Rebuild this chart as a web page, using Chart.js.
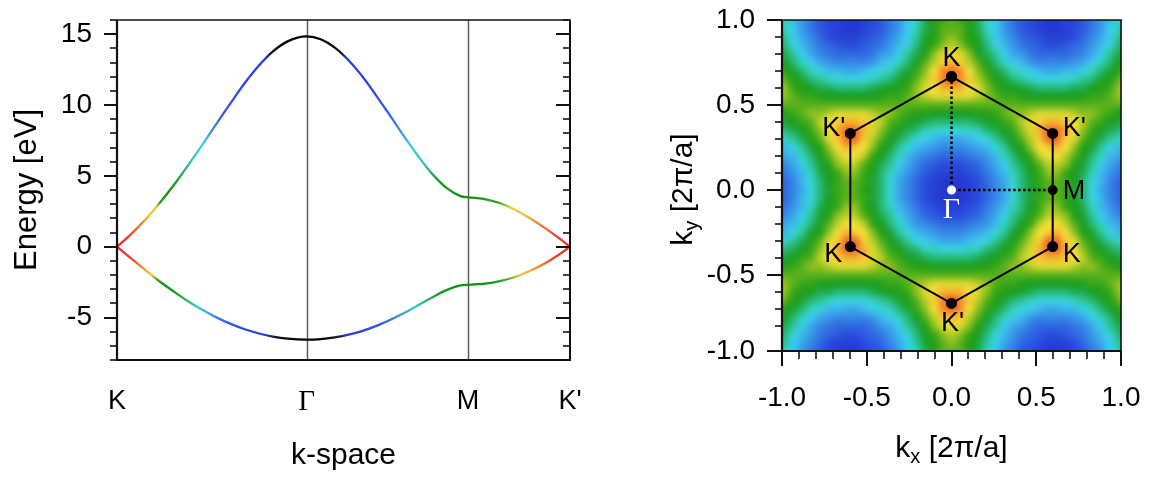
<!DOCTYPE html>
<html>
<head>
<meta charset="utf-8">
<title>Graphene bands</title>
<script src="https://cdn.jsdelivr.net/npm/chart.js@4.4.1/dist/chart.umd.min.js"></script>
<style>
  html, body { margin: 0; padding: 0; background: #fff; }
  #wrap { position: relative; width: 1149px; height: 477px; overflow: hidden; }
  #bands { position: absolute; left: 0; top: 0; width: 640px; height: 477px; }
  #zone { position: absolute; left: 640px; top: 0; width: 509px; height: 477px; }
</style>
</head>
<body>
<div id="wrap">
  <canvas id="bands" width="640" height="477"></canvas>
  <canvas id="zone" width="509" height="477"></canvas>
</div>
<script>
/* ── band structure along K - Γ - M - K' ───────────────── */
// position along the path (plot units) and band energies [eV]
const kPath = [0, 0.049, 0.099, 0.148, 0.198, 0.247, 0.297, 0.346, 0.396, 0.445, 0.495, 0.544, 0.594, 0.66,
  0.709, 0.757, 0.806, 0.855, 0.903, 0.952, 1.001, 1.050, 1.098, 1.147, 1.196, 1.222,
  1.275, 1.329, 1.382, 1.435, 1.489, 1.542, 1.577];
const conduction = [0, 0.89, 1.92, 3.07, 4.35, 5.73, 7.18, 8.67, 10.15, 11.55, 12.80, 13.80, 14.49, 14.84,
  14.64, 14.07, 13.16, 11.99, 10.65, 9.21, 7.74, 6.35, 5.12, 4.15, 3.57, 3.48,
  3.38, 3.10, 2.64, 2.04, 1.33, 0.55, 0];
const valence = [0, -0.83, -1.65, -2.44, -3.17, -3.85, -4.46, -4.99, -5.45, -5.83, -6.13, -6.35, -6.49, -6.56,
  -6.52, -6.40, -6.21, -5.94, -5.59, -5.16, -4.67, -4.12, -3.57, -3.07, -2.74, -2.69,
  -2.63, -2.45, -2.16, -1.74, -1.19, -0.52, 0];
const pathTicks = [0, 0.66, 1.222, 1.577];
const pathLabels = ['K', 'Γ', 'M', "K'"];
const energyTicks = [-5, 0, 5, 10, 15];

/* ── first Brillouin zone map ─────────────────────────── */
// |f(k)| on a 41x41 grid, one char per cell (base 36, value/10), first row = top
const bzStepX = 0.0518;
const bzStepY = 0.05;
const bzRows = [
  'filnprttuutsrpnkifdbabdfiknprstuuttrpnlif',
  'fiknprstuutsrpnkifcaaacfiknprstuutsrpnkif',
  'ehkmoqstttsrqomkheca9acehkmoqrstttsqomkhe',
  'dgjlnpqrssrqpnljgdb989bdgjlnpqrssrqpnljgd',
  'cfhkmopqqqqpnmkhfc97679cfhkmnpqqqqpomkhfc',
  'bdgikmnoooonlkigda85458adgiklnoooonmkigdb',
  '9cegijllmmlkjigeb9632369begijklmmlljigec9',
  '8aceghijjjjihgeca8531358aceghijjjjihgeca8',
  '79bcdffggggfedcb976444679bcdefggggffdcb97',
  '89abbcddddddcbba987777789abbcddddddcbba98',
  'aaaaaaaaaaaaaaaaaaaaaaaaaaaaaaaaaaaaaaaaa',
  'ccba9987777899abccdddddccba9987777899abcc',
  'fedba86544578abdefgggggfedba87544568abdef',
  'hgfdb96422479bdfgiijjjiigfdb97422469bdfgh',
  'kihfca752258adfhjklmmmlkjhfda852257acfhik',
  'mljhec964569cehjlmnooonmljhec965469cehjlm',
  'omligda8668bdgilnopqqqponligdb8668adgilmo',
  'qomkhec988acfhkmoqrsssrqomkhfca889cehkmoq',
  'rpnlifdb99bdgilnprstttsrpnligdb99bdfilnpr',
  'rqoljgdbaabegjmoqstuuutsqomjgebaabdgjloqr',
  'sqomjgebaacegjmoqstuuutsqomjgecaabegjmoqs',
  'rqoljgdbaabegjmoqstuuutsqomjgebaabdgjloqr',
  'rpnlifdb99bdgilnprstttsrpnligdb99bdfilnpr',
  'qomkhec988acfhkmoqrsssrqomkhfca889cehkmoq',
  'omligda8668bdgilnopqqqponligdb8668adgilmo',
  'mljhec964569cehjlmnooonmljhec965469cehjlm',
  'kihfca752258adfhjklmmmlkjhfda852257acfhik',
  'hgfdb96422479bdfgiijjjiigfdb97422469bdfgh',
  'fedba86544578abdefgggggfedba87544568abdef',
  'ccba9987777899abccdddddccba9987777899abcc',
  'aaaaaaaaaaaaaaaaaaaaaaaaaaaaaaaaaaaaaaaaa',
  '89abbcddddddcbba987777789abbcddddddcbba98',
  '79bcdffggggfedcb976444679bcdefggggffdcb97',
  '8aceghijjjjihgeca8531358aceghijjjjihgeca8',
  '9cegijllmmlkjigeb9632369begijklmmlljigec9',
  'bdgikmnoooonlkigda85458adgiklnoooonmkigdb',
  'cfhkmopqqqqpnmkhfc97679cfhkmnpqqqqpomkhfc',
  'dgjlnpqrssrqpnljgdb989bdgjlnpqrssrqpnljgd',
  'ehkmoqstttsrqomkheca9acehkmoqrstttsqomkhe',
  'fiknprstuutsrpnkifcaaacfiknprstuutsrpnkif',
  'filnprttuutsrpnkifdbabdfiknprstuuttrpnlif'
];
const bzCorners = [[0, 0.667], [0.597, 0.333], [0.597, -0.333], [0, -0.667], [-0.597, -0.333], [-0.597, 0.333]];
const bzCornerNames = ['K', "K'", 'K', "K'", 'K', "K'"];
const gammaPoint = [0, 0];
const mPoint = [0.597, 0];
const kTicks = [-1, -0.5, 0, 0.5, 1];
const kyTicks = [-0.947, -0.5, 0, 0.5, 1];
const kyTickLabels = ['-1.0', '-0.5', '0.0', '0.5', '1.0'];

/* ── styling ──────────────────────────────────────────── */
const SANS = '"Liberation Sans", Arial, Helvetica, sans-serif';
const SERIF = '"Liberation Serif", "Times New Roman", serif';
Chart.defaults.font.family = SANS;
Chart.defaults.color = '#000';

// line colour follows the energy (same jet-like scale as the map)
const upperStops = [[0, '#e5242b'], [0.9, '#ec4a2c'], [1.7, '#f08a2e'], [2.3, '#f5c63c'], [2.8, '#d9d040'],
  [3.1, '#2f9f24'], [3.6, '#128f1a'], [4.6, '#1d9c22'], [5.4, '#2cb46e'], [6.2, '#34cbc8'], [7.2, '#38cde8'],
  [8.2, '#3c92e8'], [9.4, '#3658e6'], [13.3, '#2c36e0'], [13.65, '#141418'], [14.9, '#000000']];
const lowerStops = [[0, '#e5242b'], [-0.9, '#ec4a2c'], [-1.5, '#f0902e'], [-2.0, '#f3cc3e'], [-2.35, '#3aa628'],
  [-2.6, '#128f1a'], [-3.3, '#1d9c22'], [-3.8, '#2cb46e'], [-4.3, '#34cbd0'], [-4.8, '#3c98e8'],
  [-5.4, '#3658e6'], [-6.25, '#2c36e0'], [-6.38, '#141418'], [-6.6, '#000000']];

const fieldStops = [
  [0.00, 228, 48, 28], [0.15, 238, 92, 34], [0.30, 244, 142, 40], [0.45, 246, 194, 50],
  [0.60, 240, 222, 56], [0.75, 206, 212, 44], [0.90, 140, 192, 32], [1.05, 64, 170, 26],
  [1.25, 28, 156, 26], [1.45, 30, 166, 62], [1.65, 42, 190, 134], [1.85, 54, 212, 206],
  [2.00, 58, 202, 236], [2.25, 58, 160, 232], [2.55, 48, 112, 226], [2.85, 40, 70, 216],
  [3.00, 36, 56, 210]
];

function bandGradient(stops) {
  return ({ chart }) => {
    const { ctx, chartArea, scales } = chart;
    if (!chartArea) return stops[0][1];
    const e0 = stops[0][0], e1 = stops[stops.length - 1][0];
    const g = ctx.createLinearGradient(0, scales.y.getPixelForValue(e0), 0, scales.y.getPixelForValue(e1));
    stops.forEach(([e, c]) => g.addColorStop((e - e0) / (e1 - e0), c));
    return g;
  };
}

function fieldColor(w) {
  for (let i = 1; i < fieldStops.length; i++) {
    const a = fieldStops[i - 1], b = fieldStops[i];
    if (w <= b[0]) {
      const t = (w - a[0]) / (b[0] - a[0]);
      return [1, 2, 3].map(k => Math.round(a[k] + (b[k] - a[k]) * t));
    }
  }
  return fieldStops[fieldStops.length - 1].slice(1);
}

// small offscreen image, one pixel per grid cell; smoothed when scaled up
function fieldImage() {
  const rows = bzRows.length, cols = bzRows[0].length;
  const off = document.createElement('canvas');
  off.width = cols; off.height = rows;
  const c = off.getContext('2d');
  const img = c.createImageData(cols, rows);
  bzRows.forEach((row, r) => {
    for (let i = 0; i < cols; i++) {
      const rgb = fieldColor(parseInt(row[i], 36) / 10);
      const k = (r * cols + i) * 4;
      img.data[k] = rgb[0]; img.data[k + 1] = rgb[1]; img.data[k + 2] = rgb[2]; img.data[k + 3] = 255;
    }
  });
  c.putImageData(img, 0, 0);
  return off;
}

// keep the plot box where the sizes say, no extra room for edge labels
function noEdgePadding(s) {
  s.paddingTop = 0; s.paddingBottom = 0; s.paddingLeft = 0; s.paddingRight = 0;
}

/* ── plugins ──────────────────────────────────────────── */
// frame + major/minor tick marks (Chart.js has no minor ticks)
const frame = {
  id: 'frame',
  afterDraw(chart, args, o) {
    const { ctx, chartArea: a, scales } = chart;
    ctx.save();
    ctx.strokeStyle = '#111';
    (o.marks || []).forEach(m => {
      const s = scales[m.axis];
      const vals = m.major.map(v => [v, true]);
      for (let k = Math.ceil(m.min / m.step - 1e-6); k * m.step <= m.max + 1e-6; k++) {
        const v = k * m.step;
        if (!m.major.some(t => Math.abs(t - v) < m.step / 2)) vals.push([v, false]);
      }
      vals.forEach(([v, major]) => {
        const p = Math.round(s.getPixelForValue(v));
        const len = major ? m.majorLen : m.minorLen;
        ctx.lineWidth = major ? 2 : 1.6;
        ctx.beginPath();
        if (m.edge === 'left') { ctx.moveTo(a.left, p); ctx.lineTo(m.out ? a.left - len : a.left + len, p); }
        if (m.edge === 'right') { ctx.moveTo(a.right, p); ctx.lineTo(m.out ? a.right + len : a.right - len, p); }
        if (m.edge === 'bottom') { ctx.moveTo(p, a.bottom); ctx.lineTo(p, m.out ? a.bottom + len : a.bottom - len); }
        ctx.stroke();
      });
    });
    const sd = o.sides;
    const line = (w, x0, y0, x1, y1) => { ctx.lineWidth = w; ctx.beginPath(); ctx.moveTo(x0, y0); ctx.lineTo(x1, y1); ctx.stroke(); };
    line(sd.top, a.left - 1, a.top, a.right + 1, a.top);
    line(sd.right, a.right, a.top, a.right, a.bottom + 1);
    line(sd.bottom, a.left - 1, a.bottom, a.right + 1, a.bottom);
    line(sd.left, a.left, a.top, a.left, a.bottom + 1);
    ctx.restore();
  }
};

// vertical guides at Γ and M
const pathGuides = {
  id: 'pathGuides',
  beforeDatasetsDraw(chart) {
    const { ctx, chartArea: a, scales } = chart;
    ctx.save();
    ctx.strokeStyle = '#555';
    ctx.lineWidth = 1.4;
    [pathTicks[1], pathTicks[2]].forEach(v => {
      const x = Math.round(scales.x.getPixelForValue(v)) + 0.5;
      ctx.beginPath(); ctx.moveTo(x, a.top); ctx.lineTo(x, a.bottom); ctx.stroke();
    });
    ctx.restore();
  }
};

let fieldCanvas = null;
const zoneField = {
  id: 'zoneField',
  beforeDatasetsDraw(chart) {
    const { ctx, chartArea: a, scales } = chart;
    if (!fieldCanvas) fieldCanvas = fieldImage();
    const hx = bzRows[0].length / 2 * bzStepX, hy = bzRows.length / 2 * bzStepY;
    const x0 = scales.x.getPixelForValue(-hx), x1 = scales.x.getPixelForValue(hx);
    const y0 = scales.y.getPixelForValue(hy), y1 = scales.y.getPixelForValue(-hy);
    ctx.save();
    ctx.beginPath(); ctx.rect(a.left, a.top, a.right - a.left, a.bottom - a.top); ctx.clip();
    ctx.imageSmoothingEnabled = true;
    ctx.imageSmoothingQuality = 'high';
    ctx.drawImage(fieldCanvas, x0, y0, x1 - x0, y1 - y0);
    ctx.restore();
  }
};

const cornerLabelPos = [
  { dx: 0, dy: -18, align: 'center' },
  { dx: 10, dy: -5, align: 'left' },
  { dx: 10, dy: 8, align: 'left' },
  { dx: 1, dy: 20, align: 'center' },
  { dx: -8, dy: 8, align: 'right' },
  { dx: -5, dy: -5, align: 'right' }
];

const zoneLabels = {
  id: 'zoneLabels',
  afterDatasetsDraw(chart) {
    const { ctx, scales } = chart;
    const px = ([x, y]) => [scales.x.getPixelForValue(x), scales.y.getPixelForValue(y)];
    ctx.save();
    ctx.textBaseline = 'middle';
    ctx.fillStyle = '#000';
    ctx.font = '27px ' + SANS;
    bzCorners.forEach((c, i) => {
      const [x, y] = px(c), p = cornerLabelPos[i];
      ctx.textAlign = p.align;
      ctx.fillText(bzCornerNames[i], x + p.dx, y + p.dy);
    });
    const [mx, my] = px(mPoint);
    ctx.textAlign = 'left';
    ctx.fillText('M', mx + 10, my + 2);
    const [gx, gy] = px(gammaPoint);
    ctx.fillStyle = '#fff';
    ctx.font = '30px ' + SERIF;
    ctx.textAlign = 'center';
    ctx.fillText('Γ', gx, gy + 20);
    ctx.restore();
  }
};

function subLabel(ctx, cx, cy, angle, base, sub, tail) {
  const big = '30px ' + SANS, small = '20px ' + SANS;
  ctx.save();
  ctx.translate(cx, cy);
  ctx.rotate(angle);
  ctx.font = big;
  const w1 = ctx.measureText(base).width, w3 = ctx.measureText(tail).width;
  ctx.font = small;
  const w2 = ctx.measureText(sub).width;
  let x = -(w1 + w2 + w3) / 2;
  ctx.fillStyle = '#000';
  ctx.textBaseline = 'alphabetic';
  ctx.textAlign = 'left';
  ctx.font = big; ctx.fillText(base, x, 0); x += w1;
  ctx.font = small; ctx.fillText(sub, x, 6); x += w2;
  ctx.font = big; ctx.fillText(tail, x, 0);
  ctx.restore();
}

const zoneTitles = {
  id: 'zoneTitles',
  afterDraw(chart) {
    const { ctx, chartArea: a } = chart;
    subLabel(ctx, (a.left + a.right) / 2, 457, 0, 'k', 'x', ' [2π/a]');
    subLabel(ctx, 52, (a.top + a.bottom) / 2 + 4, -Math.PI / 2, 'k', 'y', ' [2π/a]');
  }
};

/* ── left: band structure ─────────────────────────────── */
new Chart(document.getElementById('bands'), {
  type: 'line',
  data: {
    datasets: [
      { data: kPath.map((x, i) => ({ x, y: conduction[i] })), borderColor: bandGradient(upperStops) },
      { data: kPath.map((x, i) => ({ x, y: valence[i] })), borderColor: bandGradient(lowerStops) }
    ]
  },
  options: {
    responsive: false,
    animation: false,
    events: [],
    datasets: { line: { borderWidth: 2.3, pointRadius: 0, cubicInterpolationMode: 'monotone', fill: false } },
    layout: { padding: { top: 20, right: 70, left: 0, bottom: 0 } },
    plugins: {
      legend: { display: false },
      tooltip: { enabled: false },
      frame: {
        sides: { top: 1.6, right: 2, bottom: 2.2, left: 2.2 },
        marks: [
          { axis: 'y', edge: 'left', out: true, major: energyTicks, min: -8, max: 16, step: 1, majorLen: 13, minorLen: 7 },
          { axis: 'y', edge: 'right', out: false, major: energyTicks, min: -8, max: 16, step: 1, majorLen: 14, minorLen: 7 }
        ]
      }
    },
    scales: {
      x: {
        type: 'linear', min: 0, max: 1.577,
        grid: { display: false, drawTicks: false },
        border: { display: false },
        afterBuildTicks: s => { s.ticks = pathTicks.map(v => ({ value: v })); },
        afterFit: s => { s.height = 117; noEdgePadding(s); },
        ticks: {
          autoSkip: false, maxRotation: 0, padding: 25, color: '#000',
          callback: (v, i) => pathLabels[i],
          font: c => c.index === 1 ? { family: SERIF, size: 29 } : { family: SANS, size: 27 }
        },
        title: { display: true, text: 'k-space', font: { size: 30 }, color: '#000', padding: { top: 0, bottom: 3 } }
      },
      y: {
        min: -8, max: 16,
        grid: { display: false, drawTicks: false },
        border: { display: false },
        afterBuildTicks: s => { s.ticks = energyTicks.map(v => ({ value: v })); },
        afterFit: s => { s.width = 117; noEdgePadding(s); },
        ticks: { padding: 25, color: '#000', font: { size: 28 } },
        title: { display: true, text: 'Energy [eV]', font: { size: 31 }, color: '#000', padding: { top: 9, bottom: 0 } }
      }
    }
  },
  plugins: [pathGuides, frame]
});

/* ── right: Brillouin zone map ────────────────────────── */
const pt = ([x, y]) => ({ x, y });
new Chart(document.getElementById('zone'), {
  type: 'scatter',
  data: {
    datasets: [
      { data: [pt(gammaPoint)], pointRadius: 4.5, pointBackgroundColor: '#fff', pointBorderColor: '#fff', pointBorderWidth: 0 },
      { data: [pt(mPoint)], pointRadius: 4.5, pointBackgroundColor: '#000', pointBorderColor: '#000' },
      {
        data: [...bzCorners, bzCorners[0]].map(pt), showLine: true, borderColor: '#000', borderWidth: 2,
        pointRadius: 4.5, pointBackgroundColor: '#000', pointBorderColor: '#000'
      },
      {
        data: [bzCorners[0], gammaPoint, mPoint].map(pt), showLine: true, borderColor: '#000',
        borderWidth: 2.5, borderDash: [2.5, 2.5], pointRadius: 0
      }
    ]
  },
  options: {
    responsive: false,
    animation: false,
    events: [],
    layout: { padding: { top: 20, right: 28, left: 0, bottom: 0 } },
    plugins: {
      legend: { display: false },
      tooltip: { enabled: false },
      frame: {
        sides: { top: 1.6, right: 1.6, bottom: 2.2, left: 2.2 },
        marks: [
          { axis: 'y', edge: 'left', out: true, major: kyTicks, min: -0.947, max: 1, step: 0.1, majorLen: 15, minorLen: 7 },
          { axis: 'x', edge: 'bottom', out: true, major: kTicks, min: -1, max: 1, step: 0.1, majorLen: 15, minorLen: 8 }
        ]
      }
    },
    scales: {
      x: {
        type: 'linear', min: -1, max: 1,
        grid: { display: false, drawTicks: false },
        border: { display: false },
        afterBuildTicks: s => { s.ticks = kTicks.map(v => ({ value: v })); },
        afterFit: s => { s.height = 126; noEdgePadding(s); },
        ticks: { autoSkip: false, maxRotation: 0, padding: 30, color: '#000', font: { size: 28 }, callback: v => v.toFixed(1) }
      },
      y: {
        min: -0.947, max: 1,
        grid: { display: false, drawTicks: false },
        border: { display: false },
        afterBuildTicks: s => { s.ticks = kyTicks.map(v => ({ value: v })); },
        afterFit: s => { s.width = 142; noEdgePadding(s); },
        ticks: { padding: 27, color: '#000', font: { size: 28 }, callback: (v, i) => kyTickLabels[i] }
      }
    }
  },
  plugins: [zoneField, zoneLabels, frame, zoneTitles]
});
</script>
</body>
</html>
